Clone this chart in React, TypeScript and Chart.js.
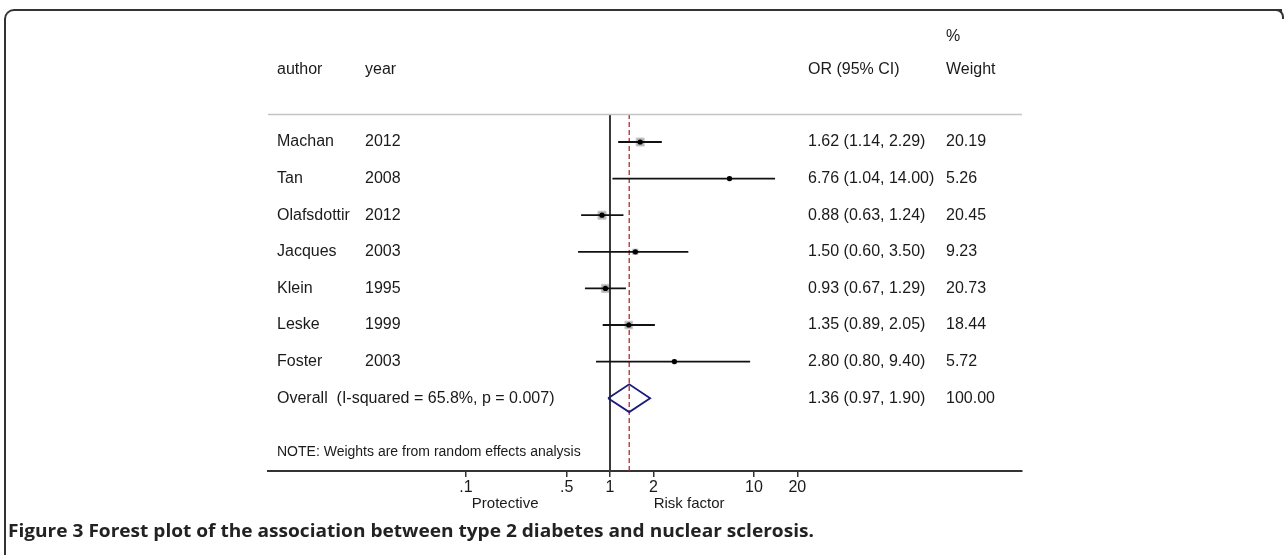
import React, { useEffect, useRef } from "react";
import { Chart, registerables } from "chart.js";
Chart.register(...registerables);

const authors = ["Machan", "Tan", "Olafsdottir", "Jacques", "Klein", "Leske", "Foster"];
const years = ["2012", "2008", "2012", "2003", "1995", "1999", "2003"];
const orValues = [1.62, 6.76, 0.88, 1.5, 0.93, 1.35, 2.8];
const ciLow = [1.14, 1.04, 0.63, 0.6, 0.67, 0.89, 0.8];
const ciHigh = [2.29, 14.0, 1.24, 3.5, 1.29, 2.05, 9.4];
const weights = [20.19, 5.26, 20.45, 9.23, 20.73, 18.44, 5.72];
const overallLabel = "Overall  (I-squared = 65.8%, p = 0.007)";
const overallOR = [1.36];
const overallLow = [0.97];
const overallHigh = [1.9];
const overallWeight = [100.0];
const tickValues = [0.1, 0.5, 1, 2, 10, 20];
const tickLabels = [".1", ".5", "1", "2", "10", "20"];
const noteText = "NOTE: Weights are from random effects analysis";
const captionText = "Figure 3 Forest plot of the association between type 2 diabetes and nuclear sclerosis.";

const FONT = '"Liberation Sans", Arial, sans-serif';
const Y_MIN = -3.607;
const Y_MAX = 8.989;
const HEADER_LINE = -0.765;
const OVERALL_ROW = authors.length;

const fmt = (v: number) => v.toFixed(2);

const tablePlugin = {
  id: "tableText",
  afterDraw(chart: any) {
    const { ctx, chartArea } = chart;
    const y = chart.scales.y;
    const x = chart.scales.x;
    ctx.save();
    ctx.strokeStyle = "#c4c4c4";
    ctx.lineWidth = 1.5;
    ctx.beginPath();
    const hy = Math.round(y.getPixelForValue(HEADER_LINE)) + 0.5;
    ctx.moveTo(chartArea.left, hy);
    ctx.lineTo(chartArea.right, hy);
    ctx.stroke();

    ctx.fillStyle = "#1a1a1a";
    ctx.textBaseline = "middle";
    ctx.textAlign = "left";
    ctx.font = `16px ${FONT}`;
    const colAuthor = 277;
    const colYear = 365;
    const colOR = 808;
    const colW = 946;
    const headY = y.getPixelForValue(-1.97);
    const pctY = y.getPixelForValue(-2.88);
    ctx.fillText("author", colAuthor, headY);
    ctx.fillText("year", colYear, headY);
    ctx.fillText("OR (95% CI)", colOR, headY);
    ctx.fillText("%", colW, pctY);
    ctx.fillText("Weight", colW, headY);
    authors.forEach((a, i) => {
      const py = y.getPixelForValue(i);
      ctx.fillText(a, colAuthor, py);
      ctx.fillText(years[i], colYear, py);
      ctx.fillText(`${fmt(orValues[i])} (${fmt(ciLow[i])}, ${fmt(ciHigh[i])})`, colOR, py);
      ctx.fillText(fmt(weights[i]), colW, py);
    });
    const oy = y.getPixelForValue(OVERALL_ROW);
    ctx.fillText(overallLabel, colAuthor, oy);
    ctx.fillText(`${fmt(overallOR[0])} (${fmt(overallLow[0])}, ${fmt(overallHigh[0])})`, colOR, oy);
    ctx.fillText(fmt(overallWeight[0]), colW, oy);

    ctx.font = `14px ${FONT}`;
    ctx.fillText(noteText, colAuthor, y.getPixelForValue(8.47));

    ctx.font = `15px ${FONT}`;
    ctx.textAlign = "center";
    const labY = chartArea.bottom + 33;
    ctx.fillText("Protective", x.getPixelForValue(0.187), labY);
    ctx.fillText("Risk factor", x.getPixelForValue(3.54), labY);
    ctx.restore();
  },
};

export default function App() {
  const canvasRef = useRef<HTMLCanvasElement | null>(null);
  const capRef = useRef<HTMLDivElement | null>(null);

  useEffect(() => {
    if (capRef.current) {
      const el = capRef.current;
      const w = el.scrollWidth;
      if (w > 0) el.style.transform = `scaleX(${806 / w})`;
    }
    const canvas = canvasRef.current;
    if (!canvas) return;

    const ciSets = authors.map((_, i) => ({
      data: [
        { x: ciLow[i], y: i },
        { x: ciHigh[i], y: i },
      ],
      showLine: true,
      borderColor: "#111",
      borderWidth: 1.8,
      pointRadius: 0,
      order: 4,
    }));

    const chart = new Chart(canvas, {
      type: "scatter",
      data: {
        datasets: [
          {
            data: [
              { x: 1, y: HEADER_LINE },
              { x: 1, y: Y_MAX },
            ],
            showLine: true,
            borderColor: "#3a3a3a",
            borderWidth: 2,
            pointRadius: 0,
            order: 6,
          },
          {
            data: [
              { x: overallOR[0], y: HEADER_LINE },
              { x: overallOR[0], y: Y_MAX },
            ],
            showLine: true,
            borderColor: "#c0242c",
            borderWidth: 1.3,
            borderDash: [5, 3],
            pointRadius: 0,
            order: 5,
          },
          {
            data: orValues.map((v, i) => ({ x: v, y: i })),
            pointStyle: "rect",
            pointRadius: weights.map((w) => 1.26 * Math.sqrt(w)),
            backgroundColor: "#b3b3b3",
            borderColor: "#c8c8c8",
            borderWidth: 1,
            order: 7,
          },
          ...ciSets,
          {
            data: orValues.map((v, i) => ({ x: v, y: i })),
            pointStyle: "circle",
            pointRadius: 2.6,
            backgroundColor: "#000",
            borderColor: "#000",
            borderWidth: 0,
            order: 1,
          },
          {
            data: [
              { x: overallLow[0], y: OVERALL_ROW },
              { x: overallOR[0], y: OVERALL_ROW - 0.38 },
              { x: overallHigh[0], y: OVERALL_ROW },
              { x: overallOR[0], y: OVERALL_ROW + 0.38 },
              { x: overallLow[0], y: OVERALL_ROW },
            ],
            showLine: true,
            borderColor: "#1c1c78",
            borderWidth: 1.8,
            pointRadius: 0,
            order: 2,
          },
        ] as any,
      },
      options: {
        animation: false,
        responsive: false,
        events: [],
        layout: { padding: { left: 268, right: 266, top: 10, bottom: 9 } },
        plugins: { legend: { display: false }, tooltip: { enabled: false } },
        scales: {
          x: {
            type: "logarithmic",
            min: 0.004217,
            max: 726.4,
            afterBuildTicks: (s: any) => {
              s.ticks = tickValues.map((v) => ({ value: v }));
            },
            afterFit: (s: any) => {
              s.height = 40;
            },
            ticks: {
              autoSkip: false,
              maxRotation: 0,
              padding: 1,
              color: "#1a1a1a",
              font: { family: FONT, size: 16 },
              callback: (_v: any, i: number) => tickLabels[i],
            },
            grid: { drawOnChartArea: false, drawTicks: true, tickLength: 6, color: "#333", lineWidth: 1.5 },
            border: { display: true, color: "#333", width: 2 },
          },
          y: {
            type: "linear",
            display: false,
            min: Y_MIN,
            max: Y_MAX,
            reverse: true,
          },
        },
      } as any,
      plugins: [tablePlugin],
    });
    return () => chart.destroy();
  }, []);

  return (
    <div style={{ position: "fixed", left: 0, top: 0, width: 1288, height: 555, background: "#fff", overflow: "hidden" }}>
      <div
        style={{
          position: "absolute",
          left: 4,
          top: 9,
          width: 1276,
          height: 560,
          borderTop: "2px solid #333",
          borderLeft: "2px solid #333",
          borderTopLeftRadius: 10,
        }}
      />
      <div
        style={{
          position: "absolute",
          left: 1262,
          top: 9,
          width: 20,
          height: 8,
          borderTop: "2px solid #333",
          borderRight: "2px solid #333",
          borderTopRightRadius: 8,
        }}
      />
      <canvas ref={canvasRef} width={1288} height={520} style={{ position: "absolute", left: 0, top: 0, width: 1288, height: 520 }} />
      <div
        ref={capRef}
        style={{
          position: "absolute",
          left: 8,
          top: 519,
          whiteSpace: "nowrap",
          fontFamily: '"Open Sans", sans-serif',
          fontWeight: 700,
          fontSize: 17,
          lineHeight: "23px",
          color: "#222",
          transformOrigin: "left center",
        }}
      >
        {captionText}
      </div>
    </div>
  );
}
